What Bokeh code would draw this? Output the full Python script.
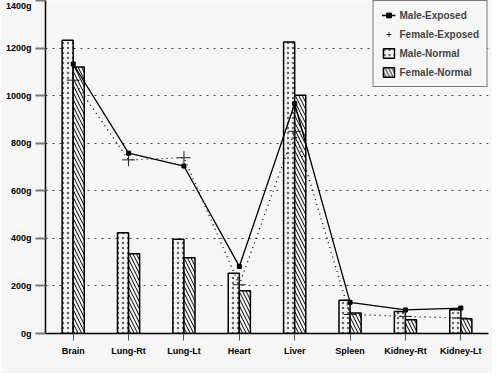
from bokeh.plotting import figure
from bokeh.models import (ColumnDataSource, FactorRange, Range1d, FixedTicker,
                          PrintfTickFormatter, Legend, LegendItem)
from bokeh.transform import dodge
from bokeh.embed import file_html
from bokeh.resources import INLINE

categories = ["Brain", "Lung-Rt", "Lung-Lt", "Heart", "Liver", "Spleen", "Kidney-Rt", "Kidney-Lt"]
male_normal = [1233, 424, 396, 253, 1226, 140, 92, 100]
female_normal = [1120, 335, 318, 180, 1002, 86, 58, 62]
male_exposed = [1133, 758, 704, 282, 966, 131, 99, 107]
female_exposed = [1065, 730, 739, 205, 850, 80, 72, 65]
y_ticks = [0, 200, 400, 600, 800, 1000, 1200, 1400]

src = ColumnDataSource(dict(cat=categories, mn=male_normal, fn=female_normal,
                            me=male_exposed, fe=female_exposed))

FONT = "Liberation Sans"
BG = "#f6f6f6"

p = figure(width=492, height=373, output_backend="svg", toolbar_location=None,
           x_range=FactorRange(*categories, range_padding=0), y_range=Range1d(0, 1400),
           min_border_left=45, min_border_right=4, min_border_top=0, min_border_bottom=40)
p.x_range.factor_padding = 0
p.background_fill_color = BG
p.border_fill_color = BG
p.outline_line_color = None

mn_r = p.vbar(x=dodge("cat", -0.1, range=p.x_range), top="mn", width=0.2, source=src,
              fill_color=BG, line_color="black", line_width=1.5,
              hatch_pattern="dot", hatch_scale=5, hatch_color="#666666", hatch_weight=1)
fn_r = p.vbar(x=dodge("cat", 0.1, range=p.x_range), top="fn", width=0.2, source=src,
              fill_color=BG, line_color="black", line_width=1.5,
              hatch_pattern="left_diagonal_line", hatch_scale=7, hatch_color="black", hatch_weight=1)

fe_line = p.line(x="cat", y="fe", source=src, line_color="black", line_width=1.3, line_dash="1 4")
fe_pts = p.scatter(x="cat", y="fe", source=src, marker="cross", size=13, line_color="#222222", line_width=1)
me_line = p.line(x="cat", y="me", source=src, line_color="black", line_width=1.3)
me_pts = p.scatter(x="cat", y="me", source=src, marker="square", size=4, fill_color="black", line_color="black")

# axes
p.yaxis.ticker = FixedTicker(ticks=y_ticks)
p.yaxis.formatter = PrintfTickFormatter(format="%dg")
p.yaxis.major_tick_out = 10
p.yaxis.major_tick_in = 0
p.yaxis.minor_tick_line_color = None
p.yaxis.major_tick_line_color = "#777777"
p.yaxis.major_tick_line_width = 2
p.yaxis.axis_line_width = 1.5
p.yaxis.major_label_standoff = 4
p.xaxis.major_tick_out = 7
p.xaxis.major_tick_in = 0
p.xaxis.major_tick_line_color = "#555555"
p.xaxis.axis_line_width = 1.5
p.xaxis.major_label_standoff = 5
for ax in (p.xaxis, p.yaxis):
    ax.major_label_text_font = FONT
    ax.major_label_text_font_style = "bold"
    ax.major_label_text_font_size = "9px"
    ax.major_label_text_color = "black"

p.xgrid.grid_line_color = None
p.ygrid.grid_line_color = "#444444"
p.ygrid.grid_line_dash = "2 5"
p.ygrid.grid_line_width = 1.2

legend = Legend(items=[
    LegendItem(label="Male-Exposed", renderers=[me_line, me_pts]),
    LegendItem(label="Female-Exposed", renderers=[fe_pts]),
    LegendItem(label="Male-Normal", renderers=[mn_r]),
    LegendItem(label="Female-Normal", renderers=[fn_r]),
], location="top_right", margin=0, padding=8, spacing=7,
    glyph_width=14, glyph_height=12, label_standoff=4,
    label_text_font=FONT, label_text_font_style="bold", label_text_font_size="10px",
    label_height=12,
    border_line_color="black", border_line_width=1.5, background_fill_color=BG,
    background_fill_alpha=1.0)
p.add_layout(legend)

open("out.html", "w").write(file_html(p, INLINE))
